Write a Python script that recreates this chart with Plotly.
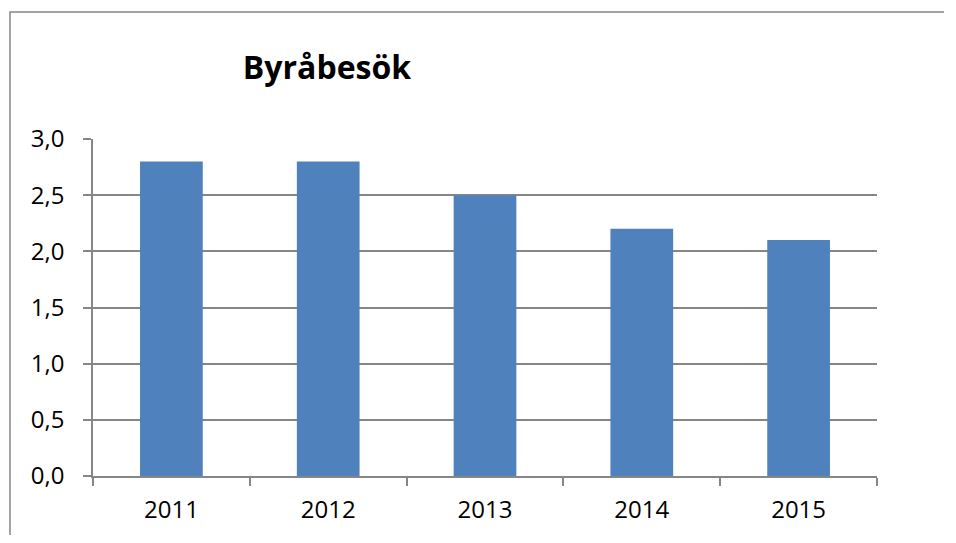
import plotly.graph_objects as go

years = ["2011", "2012", "2013", "2014", "2015"]
visits = [2.8, 2.8, 2.5, 2.2, 2.1]

# the page puts the figure 8px in from the top left corner;
# keep it small enough that no scrollbar appears
W, H = 936, 527
L, R, T, B = 85, 67, 131, 59

fig = go.Figure()
fig.add_trace(go.Bar(
    x=years,
    y=visits,
    marker=dict(color="#4F81BD", line=dict(width=0)),
    width=0.4,
))

fig.update_xaxes(
    type="category", automargin=False,
    showline=True, linecolor="#868686", linewidth=1.5,
    ticks="outside", tickson="boundaries", ticklen=8, tickcolor="#868686", tickwidth=1.5,
    ticklabelstandoff=11,
    showgrid=False,
    tickfont=dict(size=24, color="black", family="Open Sans"),
)
fig.update_yaxes(
    range=[0, 3], dtick=0.5, tickformat=".1f", automargin=False,
    showline=True, linecolor="#868686", linewidth=1.5,
    ticks="outside", ticklen=8, tickcolor="#868686", tickwidth=1.5,
    ticklabelstandoff=14,
    showgrid=True, gridcolor="#868686", gridwidth=1.5,
    zeroline=False,
    tickfont=dict(size=24, color="black", family="Open Sans"),
)

# outer chart border, only its left and top edges are visible
fig.add_shape(type="path", xref="x domain", yref="y domain",
              path="M -0.1059,-0.2 L -0.1059,1.3769 L 1.1,1.3769",
              line=dict(color="#868686", width=1.5))

fig.update_layout(
    title=dict(text="<b>Byråbesök</b>", x=319 / W, xanchor="center",
               y=1 - 60 / H, yanchor="middle",
               font=dict(size=32, color="black", family="Open Sans")),
    separators=", ",
    width=W, height=H,
    margin=dict(l=L, r=R, t=T, b=B),
    plot_bgcolor="white", paper_bgcolor="white",
    showlegend=False,
    bargap=0.6,
)

fig.write_html("out.html")
